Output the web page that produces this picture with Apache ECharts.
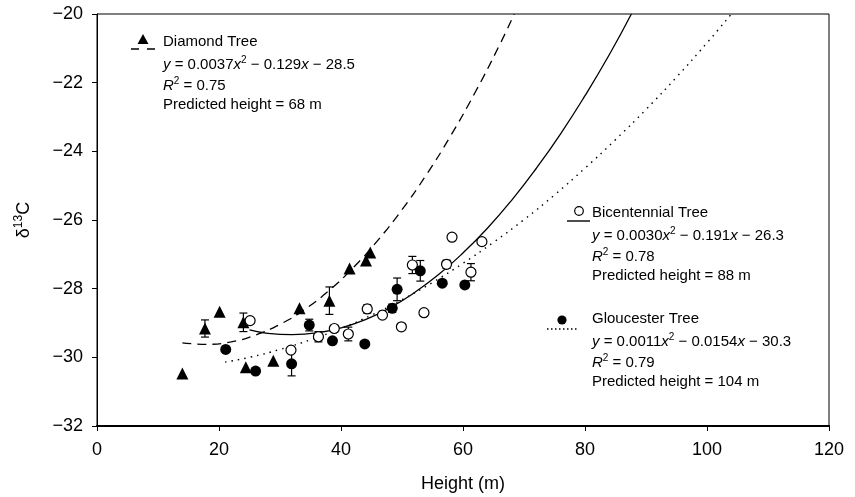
<!DOCTYPE html>
<html><head><meta charset="utf-8">
<script src="https://cdn.jsdelivr.net/npm/echarts@6/dist/echarts.min.js"></script>
<style>html,body{margin:0;padding:0;background:#fff}#c{width:855px;height:497px}</style>
</head><body><div id="c"></div>
<script>
// axis ticks
const xTicks = [0, 20, 40, 60, 80, 100, 120];
const yTicks = [-32, -30, -28, -26, -24, -22, -20];

// Diamond Tree (filled triangles)
const diamondX   = [14.0, 17.7, 20.1, 24.0, 24.4, 28.9, 33.2, 38.1, 41.4, 44.1, 44.8];
const diamondY   = [-30.47, -29.16, -28.67, -28.98, -30.29, -30.10, -28.57, -28.35, -27.41, -27.18, -26.95];
const diamondErr = [0, 0.25, 0, 0.27, 0, 0, 0, 0.4, 0, 0, 0];

// Bicentennial Tree (open circles)
const bicentX   = [25.1, 31.8, 36.3, 38.9, 41.2, 44.3, 46.8, 49.9, 51.7, 53.6, 57.3, 58.2, 61.3, 63.1];
const bicentY   = [-28.93, -29.79, -29.40, -29.16, -29.32, -28.59, -28.77, -29.11, -27.31, -28.70, -27.29, -26.50, -27.52, -26.63];
const bicentErr = [0.05, 0.08, 0.15, 0, 0.2, 0.12, 0, 0, 0.25, 0, 0.12, 0, 0.25, 0.06];

// Gloucester Tree (filled circles)
const glouX   = [21.1, 26.0, 31.9, 34.8, 38.6, 43.9, 48.4, 49.2, 53.0, 56.6, 60.3];
const glouY   = [-29.77, -30.40, -30.19, -29.06, -29.52, -29.61, -28.57, -28.02, -27.48, -27.84, -27.89];
const glouErr = [0, 0, 0.35, 0.17, 0, 0, 0.12, 0.33, 0.3, 0, 0];

// fitted curves
const diamondFitX = [14, 18, 22, 26, 30, 34, 38, 42, 46, 50, 54, 58, 62, 66, 68.4];
const diamondFitY = [-29.58, -29.62, -29.55, -29.35, -29.04, -28.61, -28.06, -27.39, -26.60, -25.70, -24.68, -23.54, -22.28, -20.90, -20.0];
const bicentFitX = [25, 28, 32, 36, 40, 44, 48, 52, 56, 60, 64, 68, 72, 76, 80, 84, 87.6];
const bicentFitY = [-29.20, -29.30, -29.34, -29.29, -29.14, -28.90, -28.56, -28.12, -27.59, -26.96, -26.24, -25.42, -24.50, -23.49, -22.38, -21.18, -20.0];
const glouFitX = [21, 25, 30, 35, 40, 45, 50, 55, 60, 65, 70, 75, 80, 85, 90, 95, 100, 104];
const glouFitY = [-30.14, -30.00, -29.77, -29.49, -29.16, -28.77, -28.32, -27.82, -27.26, -26.65, -25.99, -25.27, -24.49, -23.66, -22.78, -21.84, -20.84, -20.0];

const FONT = "'Liberation Sans', Arial, Helvetica, sans-serif";
const zip = (a, b) => a.map((v, i) => [v, b[i]]);
const zip3 = (a, b, c) => a.map((v, i) => [v, b[i], c[i]]);
const minus = v => (v < 0 ? '\u2212' : '') + Math.abs(v);

function errItem(params, api) {
  const x = api.value(0), y = api.value(1), e = api.value(2);
  if (!e) return null;
  const t = api.coord([x, y + e]), b = api.coord([x, y - e]);
  const w = 4;
  const st = { stroke: '#000', lineWidth: 1.2 };
  return { type: 'group', children: [
    { type: 'line', shape: { x1: t[0], y1: t[1], x2: b[0], y2: b[1] }, style: st },
    { type: 'line', shape: { x1: t[0] - w, y1: t[1], x2: t[0] + w, y2: t[1] }, style: st },
    { type: 'line', shape: { x1: b[0] - w, y1: b[1], x2: b[0] + w, y2: b[1] }, style: st }
  ]};
}

const richBase = {
  i: { fontStyle: 'italic', fontSize: 15, fontFamily: FONT, color: '#000', lineHeight: 20 },
  n: { fontSize: 15, fontFamily: FONT, color: '#000', lineHeight: 20 },
  s: { fontSize: 10, fontFamily: FONT, color: '#000', lineHeight: 13, verticalAlign: 'top' }
};
function legendBlock(x, y, title, eq, r2, pred) {
  const lines = [
    '{n|' + title + '}',
    eq,
    '{i|R}{s|2}{n| = ' + r2 + '}',
    '{n|Predicted height = ' + pred + '}'
  ];
  return lines.map((t, k) => ({
    type: 'text', left: x, top: y + k * 20.8,
    style: { text: t, rich: richBase, fill: '#000' }, z: 10
  }));
}

const graphics = [].concat(
  legendBlock(163, 34.5, 'Diamond Tree', '{i|y}{n| = 0.0037}{i|x}{s|2}{n| \u2212 0.129}{i|x}{n| \u2212 28.5}', '0.75', '68 m'),
  legendBlock(592, 205.5, 'Bicentennial Tree', '{i|y}{n| = 0.0030}{i|x}{s|2}{n| \u2212 0.191}{i|x}{n| \u2212 26.3}', '0.78', '88 m'),
  legendBlock(592, 311.5, 'Gloucester Tree', '{i|y}{n| = 0.0011}{i|x}{s|2}{n| \u2212 0.0154}{i|x}{n| \u2212 30.3}', '0.79', '104 m'),
  [
    // legend keys
    { type: 'polygon', shape: { points: [[143, 34], [137.5, 44], [148.5, 44]] }, style: { fill: '#000' }, z: 10 },
    { type: 'line', shape: { x1: 131, y1: 49, x2: 155, y2: 49 }, style: { stroke: '#000', lineWidth: 1.4, lineDash: [8, 8] }, z: 10 },
    { type: 'circle', shape: { cx: 579, cy: 211, r: 4.3 }, style: { fill: '#fff', stroke: '#000', lineWidth: 1.2 }, z: 10 },
    { type: 'line', shape: { x1: 567, y1: 221, x2: 590, y2: 221 }, style: { stroke: '#000', lineWidth: 1.4 }, z: 10 },
    { type: 'circle', shape: { cx: 562, cy: 320, r: 4.6 }, style: { fill: '#000' }, z: 10 },
    { type: 'line', shape: { x1: 547, y1: 329, x2: 577, y2: 329 }, style: { stroke: '#000', lineWidth: 1.4, lineDash: [1.5, 2.5] }, z: 10 }
  ]
);

const chart = echarts.init(document.getElementById('c'), null, { renderer: 'canvas' });
chart.setOption({
  backgroundColor: '#fff',
  animation: false,
  textStyle: { fontFamily: FONT },
  grid: { left: 97, right: 26, top: 14, bottom: 71, show: true, borderColor: '#000', borderWidth: 1,
          containLabel: false, outerBoundsMode: 'none' },
  xAxis: {
    type: 'value', min: xTicks[0], max: xTicks[xTicks.length - 1], interval: 20,
    name: 'Height (m)', nameLocation: 'middle', nameGap: 49,
    nameTextStyle: { fontSize: 18, color: '#000', fontFamily: FONT },
    axisLine: { show: true, lineStyle: { color: '#000', width: 2.2 } },
    axisTick: { show: true, inside: false, length: 5, lineStyle: { color: '#000' } },
    axisLabel: { fontSize: 18, color: '#000', margin: 15, fontFamily: FONT, formatter: minus },
    splitLine: { show: false }
  },
  yAxis: {
    type: 'value', min: yTicks[0], max: yTicks[yTicks.length - 1], interval: 2,
    name: '\u03b4{s|13}C', nameLocation: 'middle', nameGap: 62, nameRotate: 90,
    nameTextStyle: { fontSize: 18, color: '#000', fontFamily: FONT, lineHeight: 22,
      rich: { s: { fontSize: 12, lineHeight: 14, verticalAlign: 'top', fontFamily: FONT, color: '#000' } } },
    axisLine: { show: true, lineStyle: { color: '#000', width: 1 } },
    axisTick: { show: true, inside: false, length: 5, lineStyle: { color: '#000' } },
    axisLabel: { fontSize: 18, color: '#000', margin: 14, fontFamily: FONT, formatter: minus },
    splitLine: { show: false }
  },
  graphic: graphics,
  series: [
    { type: 'line', data: zip(diamondFitX, diamondFitY), showSymbol: false, smooth: true,
      lineStyle: { color: '#000', width: 1.3, type: [9, 6] }, z: 2 },
    { type: 'line', data: zip(bicentFitX, bicentFitY), showSymbol: false, smooth: true,
      lineStyle: { color: '#000', width: 1.3 }, z: 2 },
    { type: 'line', data: zip(glouFitX, glouFitY), showSymbol: false, smooth: true,
      lineStyle: { color: '#000', width: 1.4, type: [1.5, 5] }, z: 2 },
    { type: 'custom', renderItem: errItem, data: zip3(diamondX, diamondY, diamondErr), z: 3 },
    { type: 'custom', renderItem: errItem, data: zip3(bicentX, bicentY, bicentErr), z: 3 },
    { type: 'custom', renderItem: errItem, data: zip3(glouX, glouY, glouErr), z: 3 },
    { type: 'scatter', data: zip(diamondX, diamondY), symbol: 'triangle', symbolSize: [12, 12],
      itemStyle: { color: '#000', opacity: 1 }, z: 4 },
    { type: 'scatter', data: zip(bicentX, bicentY), symbol: 'circle', symbolSize: 10,
      itemStyle: { color: '#fff', borderColor: '#000', borderWidth: 1.2, opacity: 1 }, z: 5 },
    { type: 'scatter', data: zip(glouX, glouY), symbol: 'circle', symbolSize: 11,
      itemStyle: { color: '#000', opacity: 1 }, z: 5 }
  ]
});
</script>
</body></html>
